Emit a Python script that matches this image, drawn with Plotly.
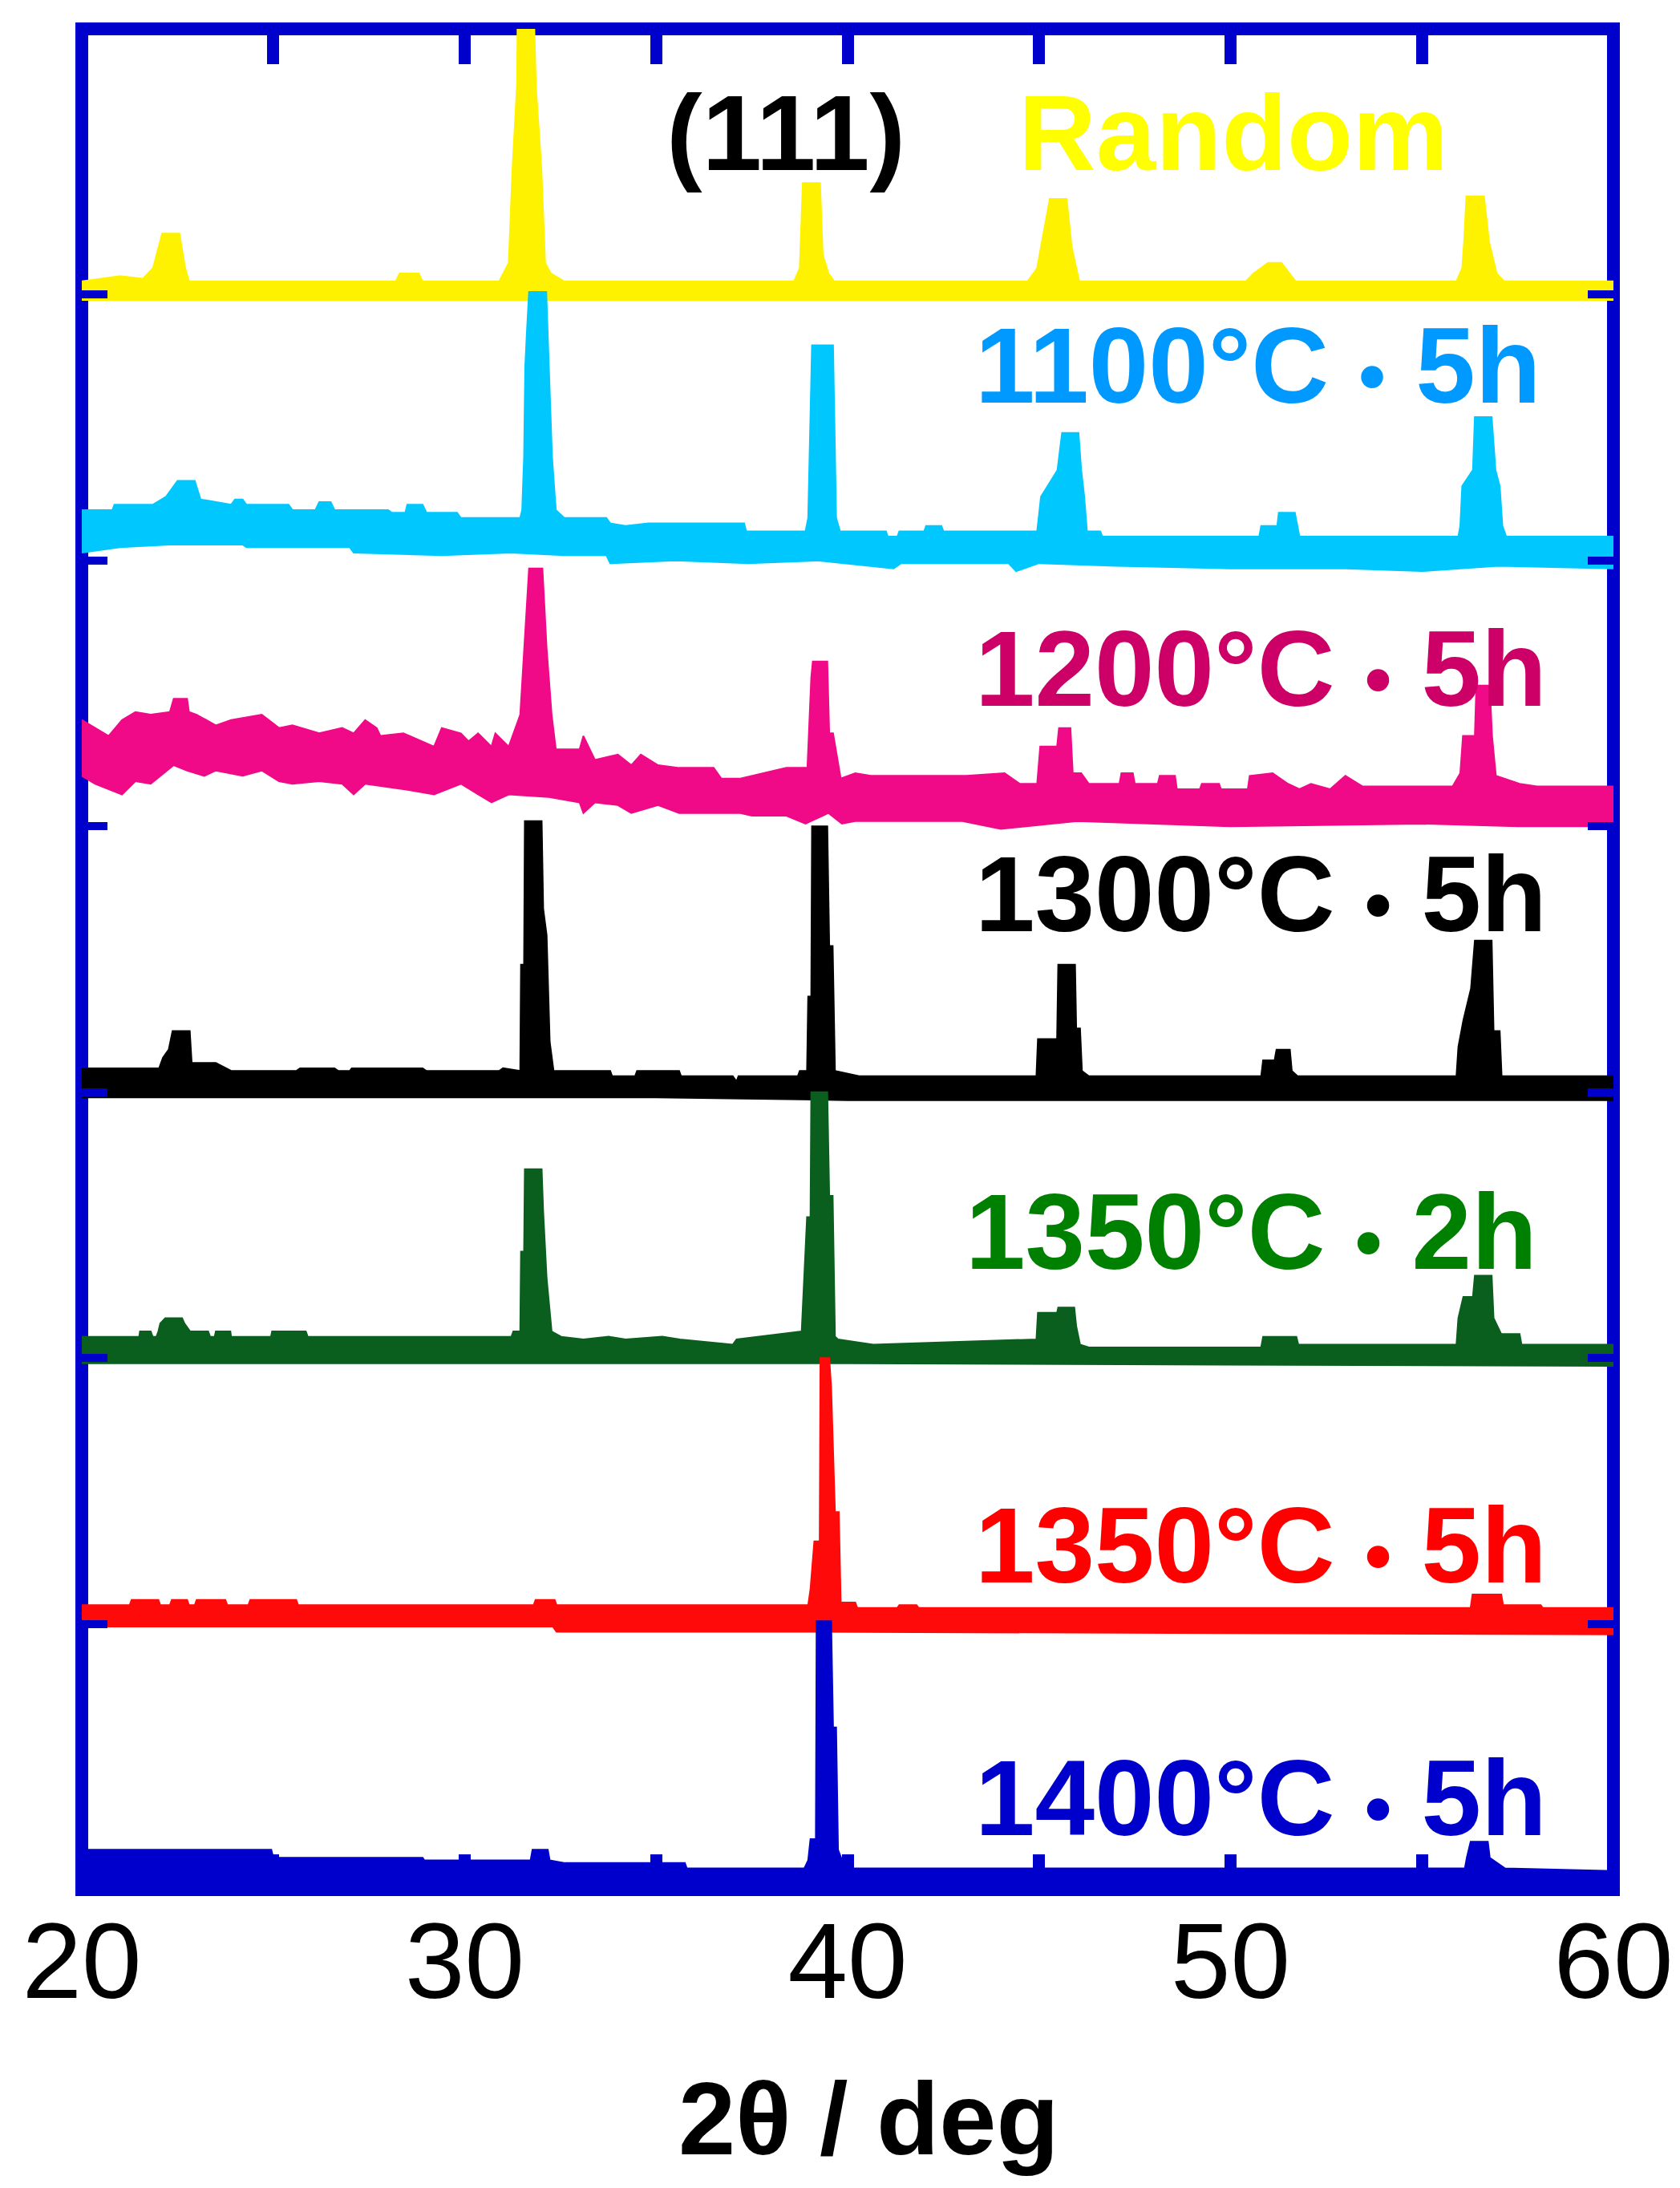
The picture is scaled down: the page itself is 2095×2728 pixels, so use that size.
import plotly.graph_objects as go

# x axis (2theta, deg)
TICK_VALUES = [20, 25, 30, 35, 40, 45, 50, 55, 60]
TICK_TEXT = ['20', '', '30', '', '40', '', '50', '', '60']
# y axis: one unit of offset between patterns
OFFSET_TICKS = [1, 2, 3, 4, 5, 6]

# Each pattern is read off as the upper and lower edge of the drawn band
# (2theta, offset intensity)
random_top = [(20.0, 6.05), (21.0, 6.07), (21.6, 6.06), (21.86, 6.10), (22.1, 6.23), (22.55, 6.23),
              (22.7, 6.10), (22.8, 6.05), (28.2, 6.05), (28.3, 6.08), (28.8, 6.08), (28.9, 6.05),
              (30.9, 6.05), (31.0, 6.08), (31.15, 6.12), (31.25, 6.48), (31.37, 6.80), (31.38, 7.05),
              (31.81, 7.05), (31.86, 6.78), (32.0, 6.48), (32.1, 6.12), (32.25, 6.08), (32.6, 6.05),
              (38.6, 6.05), (38.75, 6.10), (38.83, 6.42), (39.28, 6.42), (39.35, 6.15), (39.5, 6.08),
              (39.65, 6.05), (44.7, 6.05), (44.95, 6.10), (45.05, 6.18), (45.28, 6.36), (45.72, 6.36),
              (45.85, 6.18), (46.05, 6.05), (50.4, 6.05), (50.6, 6.08), (50.98, 6.12), (51.33, 6.12),
              (51.55, 6.08), (51.7, 6.05), (55.9, 6.05), (56.05, 6.10), (56.1, 6.20), (56.16, 6.37),
              (56.62, 6.37), (56.75, 6.20), (56.95, 6.08), (57.15, 6.05), (60.0, 6.05)]
random_bottom = [(20.0, 5.98), (60.0, 5.98)]

t1100_top = [(20.0, 5.19), (20.8, 5.19), (20.85, 5.21), (21.85, 5.21), (22.2, 5.24), (22.5, 5.30),
             (22.95, 5.30), (23.1, 5.23), (23.9, 5.21), (24.0, 5.23), (24.2, 5.23), (24.3, 5.21),
             (25.4, 5.21), (25.5, 5.19), (26.1, 5.19), (26.2, 5.22), (26.5, 5.22), (26.6, 5.19),
             (28.0, 5.19), (28.1, 5.18), (28.45, 5.18), (28.5, 5.21), (28.9, 5.21), (29.0, 5.18),
             (29.8, 5.18), (29.9, 5.16), (31.45, 5.16), (31.5, 5.19), (31.55, 5.39), (31.58, 5.73),
             (31.62, 5.85), (31.68, 6.01), (32.13, 6.01), (32.2, 5.73), (32.28, 5.39), (32.38, 5.19),
             (32.6, 5.16), (33.7, 5.16), (33.8, 5.14), (34.2, 5.13), (34.8, 5.14), (37.3, 5.14),
             (37.35, 5.11), (38.9, 5.11), (38.97, 5.16), (39.07, 5.81), (39.62, 5.81), (39.7, 5.16),
             (39.8, 5.11), (41.0, 5.11), (41.05, 5.09), (41.3, 5.09), (41.35, 5.11), (42.0, 5.11),
             (42.05, 5.13), (42.45, 5.13), (42.5, 5.11), (44.95, 5.11), (45.05, 5.24), (45.48, 5.34),
             (45.6, 5.48), (46.03, 5.48), (46.1, 5.34), (46.18, 5.24), (46.25, 5.11), (46.6, 5.11),
             (46.65, 5.09), (50.75, 5.09), (50.8, 5.13), (51.22, 5.13), (51.26, 5.18), (51.68, 5.18),
             (51.74, 5.13), (51.8, 5.09), (55.95, 5.09), (56.0, 5.13), (56.05, 5.28), (56.33, 5.34),
             (56.38, 5.54), (56.82, 5.54), (56.92, 5.34), (57.03, 5.28), (57.1, 5.13), (57.2, 5.09),
             (60.0, 5.09)]
t1100_bottom = [(20.0, 5.03), (21.0, 5.05), (22.3, 5.06), (24.2, 5.06), (24.3, 5.05), (27.0, 5.05),
                (27.1, 5.03), (29.4, 5.02), (31.2, 5.03), (32.6, 5.02), (33.7, 5.02), (33.8, 4.99),
                (35.5, 5.00), (37.4, 4.99), (39.2, 5.00), (41.2, 4.97), (41.4, 4.99), (44.2, 4.99),
                (44.4, 4.96), (45.0, 4.99), (47.0, 4.98), (50.0, 4.97), (53.0, 4.97), (55.0, 4.96),
                (57.0, 4.98), (60.0, 4.97)]

t1200_top = [(20.0, 4.40), (20.35, 4.37), (20.7, 4.34), (21.05, 4.40), (21.4, 4.43), (21.8, 4.42),
             (22.3, 4.43), (22.4, 4.48), (22.75, 4.48), (22.8, 4.43), (23.0, 4.42), (23.5, 4.38),
             (23.9, 4.40), (24.7, 4.42), (25.15, 4.37), (25.5, 4.38), (26.2, 4.35), (26.8, 4.37),
             (27.1, 4.35), (27.4, 4.40), (27.7, 4.37), (27.8, 4.34), (28.4, 4.35), (29.2, 4.30),
             (29.4, 4.37), (29.9, 4.35), (30.1, 4.32), (30.35, 4.35), (30.7, 4.30), (30.8, 4.35),
             (31.15, 4.30), (31.45, 4.42), (31.55, 4.67), (31.62, 4.83), (31.68, 4.97), (32.03, 4.97),
             (32.14, 4.67), (32.27, 4.42), (32.38, 4.29), (33.0, 4.29), (33.1, 4.34), (33.4, 4.25),
             (34.0, 4.27), (34.35, 4.23), (34.6, 4.27), (35.05, 4.23), (35.6, 4.22), (36.5, 4.22),
             (36.7, 4.18), (37.2, 4.18), (38.4, 4.22), (38.95, 4.22), (39.05, 4.56), (39.09, 4.62),
             (39.47, 4.62), (39.52, 4.35), (39.62, 4.35), (39.82, 4.18), (40.2, 4.20), (40.6, 4.19),
             (43.1, 4.19), (44.1, 4.20), (44.5, 4.16), (44.95, 4.16), (45.03, 4.30), (45.47, 4.30),
             (45.52, 4.37), (45.82, 4.37), (45.88, 4.20), (46.1, 4.20), (46.3, 4.16), (47.1, 4.16),
             (47.15, 4.20), (47.45, 4.20), (47.5, 4.16), (48.1, 4.16), (48.15, 4.19), (48.55, 4.19),
             (48.6, 4.14), (49.2, 4.14), (49.25, 4.16), (49.7, 4.16), (49.75, 4.14), (50.45, 4.14),
             (50.5, 4.19), (51.1, 4.20), (51.5, 4.16), (51.8, 4.14), (52.1, 4.16), (52.6, 4.14),
             (53.0, 4.19), (53.45, 4.15), (55.8, 4.15), (56.0, 4.20), (56.07, 4.34), (56.38, 4.34),
             (56.42, 4.53), (56.77, 4.53), (56.83, 4.34), (56.93, 4.19), (57.55, 4.16), (58.0, 4.15),
             (60.0, 4.15)]
t1200_bottom = [(20.0, 4.19), (20.35, 4.16), (21.05, 4.12), (21.4, 4.17), (21.8, 4.16), (22.4, 4.23),
                (22.75, 4.21), (23.2, 4.19), (23.5, 4.21), (24.2, 4.19), (24.7, 4.21), (25.15, 4.17),
                (25.5, 4.16), (26.2, 4.17), (26.8, 4.16), (27.1, 4.12), (27.4, 4.16), (28.4, 4.14),
                (29.2, 4.12), (29.9, 4.16), (30.35, 4.12), (30.7, 4.09), (31.15, 4.12), (32.2, 4.11),
                (33.0, 4.09), (33.1, 4.05), (33.4, 4.09), (34.0, 4.08), (34.35, 4.05), (35.05, 4.08),
                (35.6, 4.05), (37.2, 4.05), (37.5, 4.04), (38.4, 4.04), (38.9, 4.01), (39.5, 4.05),
                (39.85, 4.01), (40.2, 4.02), (43.0, 4.02), (44.0, 3.99), (46.0, 4.02), (50.0, 4.00),
                (55.0, 4.01), (57.5, 4.00), (60.0, 4.00)]

t1300_top = [(20.0, 3.09), (22.02, 3.09), (22.12, 3.13), (22.27, 3.16), (22.37, 3.23), (22.82, 3.23),
             (22.87, 3.11), (23.5, 3.11), (23.9, 3.08), (25.6, 3.08), (25.7, 3.09), (26.6, 3.09),
             (26.7, 3.08), (27.0, 3.08), (27.05, 3.09), (28.9, 3.09), (29.0, 3.08), (30.9, 3.08),
             (31.0, 3.09), (31.45, 3.08), (31.47, 3.48), (31.55, 3.48), (31.57, 4.02), (32.01, 4.02),
             (32.05, 3.69), (32.14, 3.59), (32.22, 3.19), (32.32, 3.08), (33.8, 3.08), (33.85, 3.06),
             (34.45, 3.06), (34.5, 3.08), (35.6, 3.08), (35.65, 3.06), (37.0, 3.06), (37.1, 3.04),
             (37.15, 3.06), (38.7, 3.06), (38.75, 3.08), (38.94, 3.08), (38.97, 3.36), (39.05, 3.36),
             (39.07, 4.00), (39.47, 4.00), (39.52, 3.55), (39.61, 3.55), (39.67, 3.08), (40.3, 3.06),
             (44.93, 3.06), (44.97, 3.20), (45.47, 3.20), (45.5, 3.48), (45.94, 3.48), (45.97, 3.24),
             (46.07, 3.24), (46.12, 3.08), (46.3, 3.06), (50.8, 3.06), (50.85, 3.12), (51.15, 3.12),
             (51.2, 3.16), (51.55, 3.16), (51.6, 3.08), (51.75, 3.06), (55.9, 3.06), (55.95, 3.17),
             (56.08, 3.27), (56.28, 3.39), (56.38, 3.57), (56.82, 3.57), (56.87, 3.23), (57.03, 3.23),
             (57.08, 3.06), (60.0, 3.06)]
t1300_bottom = [(20.0, 2.98), (35.0, 2.98), (40.0, 2.97), (60.0, 2.97)]

t1350_2h_top = [(20.0, 2.08), (21.5, 2.08), (21.52, 2.10), (21.8, 2.10), (21.85, 2.08), (21.95, 2.08),
                (22.0, 2.10), (22.05, 2.13), (22.18, 2.15), (22.62, 2.15), (22.68, 2.13), (22.83, 2.10),
                (23.3, 2.10), (23.35, 2.08), (23.47, 2.08), (23.5, 2.10), (23.88, 2.10), (23.9, 2.08),
                (24.94, 2.08), (24.97, 2.10), (25.85, 2.10), (25.9, 2.08), (31.22, 2.08), (31.27, 2.10),
                (31.45, 2.10), (31.47, 2.40), (31.55, 2.40), (31.57, 2.71), (32.01, 2.71), (32.05, 2.55),
                (32.14, 2.30), (32.27, 2.10), (32.52, 2.08), (33.1, 2.07), (33.76, 2.08), (34.2, 2.07),
                (35.16, 2.08), (35.62, 2.07), (37.0, 2.05), (37.1, 2.07), (38.8, 2.10), (38.94, 2.53),
                (39.03, 2.53), (39.05, 3.00), (39.47, 3.00), (39.52, 2.61), (39.61, 2.61), (39.67, 2.08),
                (39.75, 2.07), (40.67, 2.05), (44.93, 2.07), (44.97, 2.17), (45.47, 2.17), (45.5, 2.19),
                (45.92, 2.19), (45.97, 2.12), (46.07, 2.05), (46.3, 2.04), (50.8, 2.04), (50.85, 2.08),
                (51.72, 2.08), (51.77, 2.05), (55.9, 2.05), (55.95, 2.15), (56.08, 2.23), (56.33, 2.23),
                (56.38, 2.31), (56.82, 2.31), (56.87, 2.15), (57.07, 2.09), (57.55, 2.09), (57.6, 2.05),
                (60.0, 2.05)]
t1350_2h_bottom = [(20.0, 1.98), (40.0, 1.98), (60.0, 1.97)]

t1350_5h_top = [(20.0, 1.07), (21.25, 1.07), (21.3, 1.09), (22.0, 1.09), (22.05, 1.07), (22.3, 1.07),
                (22.35, 1.09), (22.75, 1.09), (22.8, 1.07), (22.95, 1.07), (23.0, 1.09), (23.75, 1.09),
                (23.8, 1.07), (24.35, 1.07), (24.4, 1.09), (25.6, 1.09), (25.65, 1.07), (31.8, 1.07),
                (31.85, 1.09), (32.35, 1.09), (32.4, 1.07), (38.97, 1.07), (39.03, 1.13), (39.13, 1.31),
                (39.27, 1.31), (39.29, 2.00), (39.52, 2.00), (39.57, 1.89), (39.67, 1.42), (39.77, 1.42),
                (39.82, 1.08), (40.2, 1.08), (40.25, 1.06), (41.3, 1.06), (41.35, 1.07), (41.8, 1.07),
                (41.85, 1.06), (56.27, 1.06), (56.32, 1.11), (57.07, 1.11), (57.12, 1.07), (58.1, 1.07),
                (58.15, 1.06), (60.0, 1.06)]
t1350_5h_bottom = [(20.0, 0.99), (32.3, 0.99), (32.4, 0.97), (39.0, 0.97), (60.0, 0.96)]

t1400_top = [(20.0, 0.15), (24.95, 0.15), (25.0, 0.12), (28.9, 0.12), (28.95, 0.11), (31.72, 0.11),
             (31.77, 0.15), (32.17, 0.15), (32.22, 0.11), (32.62, 0.10), (35.75, 0.10), (35.8, 0.08),
             (38.87, 0.08), (38.97, 0.11), (39.03, 0.19), (39.17, 0.19), (39.19, 1.01), (39.57, 1.01),
             (39.62, 0.61), (39.7, 0.61), (39.75, 0.15), (39.91, 0.09), (40.07, 0.08), (56.12, 0.08),
             (56.17, 0.12), (56.27, 0.18), (56.72, 0.18), (56.77, 0.12), (57.17, 0.08), (60.0, 0.07)]
t1400_bottom = [(20.0, -0.05), (60.0, -0.05)]

TEMPERATURES = ['Random', '1100°C', '1200°C', '1300°C', '1350°C', '1350°C', '1400°C']
HOLD_TIMES = ['', '5h', '5h', '5h', '2h', '5h', '5h']
BANDS = [(random_top, random_bottom), (t1100_top, t1100_bottom), (t1200_top, t1200_bottom),
         (t1300_top, t1300_bottom), (t1350_2h_top, t1350_2h_bottom),
         (t1350_5h_top, t1350_5h_bottom), (t1400_top, t1400_bottom)]

FRAME_BLUE = '#0000CC'
TRACE_COLORS = ['#FFF200', '#00C8FF', '#F00A87', '#000000', '#0A5F1E', '#FF0A0A', '#0000CC']
LABEL_COLORS = ['#FFFF00', '#0099FF', '#CC0066', '#000000', '#008000', '#FF0000', '#0000CC']
# label centres in data coordinates
LABEL_POS = [(50.07, 6.61), (50.72, 5.735), (50.79, 4.595), (50.79, 3.745),
             (50.55, 2.475), (50.79, 1.295), (50.79, 0.345)]

FONT = 'Liberation Sans, Arial, Helvetica, sans-serif'


def band(top, bottom):
    """Close the upper and lower edge of a pattern into one polygon."""
    xs = [p[0] for p in top] + [p[0] for p in reversed(bottom)]
    ys = [p[1] for p in top] + [p[1] for p in reversed(bottom)]
    return xs, ys


def label_text(temp, hold):
    if not hold:
        return f'<b>{temp}</b>'
    # smaller bullet between temperature and holding time
    return f'<b>{temp} <span style="font-size:96px">•</span> {hold}</b>'


def build_figure():
    fig = go.Figure()

    for (top, bottom), temp, hold, color in zip(BANDS, TEMPERATURES, HOLD_TIMES, TRACE_COLORS):
        xs, ys = band(top, bottom)
        fig.add_trace(go.Scatter(
            x=xs, y=ys, mode='lines', fill='toself',
            fillcolor=color, line=dict(color=color, width=2),
            name=f'{temp} {hold}', hoverinfo='skip'
        ))

    # labels next to each pattern
    for temp, hold, color, (lx, ly) in zip(TEMPERATURES, HOLD_TIMES, LABEL_COLORS, LABEL_POS):
        fig.add_annotation(x=lx, y=ly, text=label_text(temp, hold), showarrow=False,
                           xanchor='center', yanchor='middle',
                           font=dict(family=FONT, size=134, color=color))

    fig.add_annotation(x=38.39, y=6.61, text='<b>(111)</b>', showarrow=False,
                       xanchor='center', yanchor='middle',
                       font=dict(family=FONT, size=134, color='#000000'))

    # x axis title
    fig.add_annotation(x=0.514, y=-0.123, xref='paper', yref='paper',
                       text='<b>2θ / deg</b>', showarrow=False,
                       xanchor='center', yanchor='middle',
                       font=dict(family=FONT, size=128, color='#000000'))

    # blue frame, centred on the plot edges
    fig.add_shape(type='rect', xref='paper', yref='paper', x0=0, y0=0, x1=1, y1=1,
                  line=dict(color=FRAME_BLUE, width=16), layer='below')

    fig.update_layout(
        width=2095, height=2728,
        margin=dict(l=94, r=91, t=28, b=380),
        paper_bgcolor='white', plot_bgcolor='white',
        showlegend=False,
        xaxis=dict(
            range=[20, 60], tickvals=TICK_VALUES, ticktext=TICK_TEXT,
            ticks='inside', ticklen=44, tickwidth=15, tickcolor=FRAME_BLUE,
            mirror='ticks', showline=False, showgrid=False, zeroline=False,
            tickfont=dict(family=FONT, size=134, color='#000000'),
            ticklabelstandoff=0
        ),
        yaxis=dict(
            range=[0, 7], tickvals=OFFSET_TICKS,
            ticks='inside', ticklen=32, tickwidth=10, tickcolor=FRAME_BLUE,
            mirror='ticks', showline=False, showgrid=False, zeroline=False,
            showticklabels=False
        ),
    )
    return fig


def main():
    fig = build_figure()
    fig.write_html('out.html', config={'displayModeBar': False})


if __name__ == '__main__':
    main()
